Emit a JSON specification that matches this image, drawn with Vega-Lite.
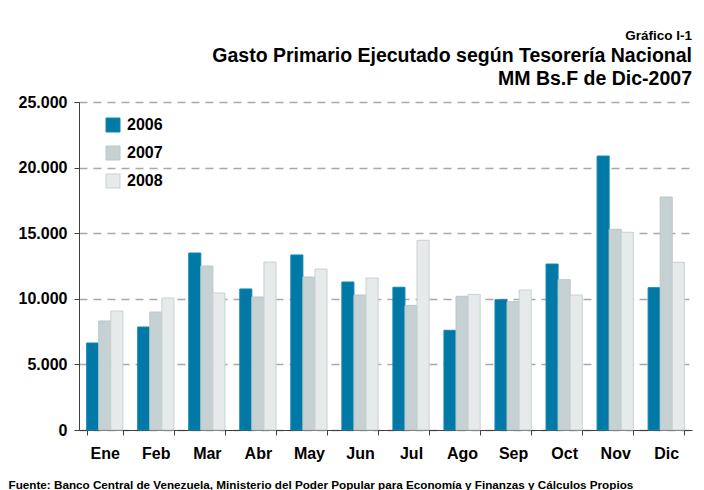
{
  "$schema": "https://vega.github.io/schema/vega-lite/v6.json",
  "width": 613,
  "height": 328,
  "autosize": {"type": "none"},
  "padding": {"left": 79, "top": 102, "right": 12, "bottom": 60},
  "background": "white",
  "config": {
    "font": "Liberation Sans",
    "locale": {"number": {"decimal": ",", "thousands": ".", "grouping": [3], "currency": ["", ""]}},
    "view": {"stroke": null}
  },
  "title": {
    "text": "Gráfico I-1",
    "subtitle": ["Gasto Primario Ejecutado según Tesorería Nacional", "MM Bs.F de Dic-2007"],
    "anchor": "end",
    "frame": "group",
    "font": "Liberation Sans",
    "fontSize": 13.5,
    "fontWeight": "bold",
    "color": "black",
    "subtitleFont": "Liberation Sans",
    "subtitleFontSize": 19.5,
    "subtitleFontWeight": "bold",
    "subtitleColor": "black",
    "subtitleLineHeight": 23,
    "subtitlePadding": 4,
    "offset": 6
  },
  "data": {
    "values": [
      {"mes": "Ene", "anio": "2006", "valor": 6630},
      {"mes": "Ene", "anio": "2007", "valor": 8310},
      {"mes": "Ene", "anio": "2008", "valor": 9070},
      {"mes": "Feb", "anio": "2006", "valor": 7850},
      {"mes": "Feb", "anio": "2007", "valor": 8990},
      {"mes": "Feb", "anio": "2008", "valor": 10060},
      {"mes": "Mar", "anio": "2006", "valor": 13490},
      {"mes": "Mar", "anio": "2007", "valor": 12500},
      {"mes": "Mar", "anio": "2008", "valor": 10440},
      {"mes": "Abr", "anio": "2006", "valor": 10750},
      {"mes": "Abr", "anio": "2007", "valor": 10140},
      {"mes": "Abr", "anio": "2008", "valor": 12800},
      {"mes": "May", "anio": "2006", "valor": 13340},
      {"mes": "May", "anio": "2007", "valor": 11660},
      {"mes": "May", "anio": "2008", "valor": 12270},
      {"mes": "Jun", "anio": "2006", "valor": 11280},
      {"mes": "Jun", "anio": "2007", "valor": 10290},
      {"mes": "Jun", "anio": "2008", "valor": 11590},
      {"mes": "Jul", "anio": "2006", "valor": 10880},
      {"mes": "Jul", "anio": "2007", "valor": 9500},
      {"mes": "Jul", "anio": "2008", "valor": 14460},
      {"mes": "Ago", "anio": "2006", "valor": 7600},
      {"mes": "Ago", "anio": "2007", "valor": 10190},
      {"mes": "Ago", "anio": "2008", "valor": 10340},
      {"mes": "Sep", "anio": "2006", "valor": 9930},
      {"mes": "Sep", "anio": "2007", "valor": 9780},
      {"mes": "Sep", "anio": "2008", "valor": 10670},
      {"mes": "Oct", "anio": "2006", "valor": 12650},
      {"mes": "Oct", "anio": "2007", "valor": 11460},
      {"mes": "Oct", "anio": "2008", "valor": 10290},
      {"mes": "Nov", "anio": "2006", "valor": 20880},
      {"mes": "Nov", "anio": "2007", "valor": 15300},
      {"mes": "Nov", "anio": "2008", "valor": 15070},
      {"mes": "Dic", "anio": "2006", "valor": 10850},
      {"mes": "Dic", "anio": "2007", "valor": 17760},
      {"mes": "Dic", "anio": "2008", "valor": 12780}
    ]
  },
  "mark": {"type": "bar", "strokeWidth": 1},
  "encoding": {
    "x": {
      "field": "mes",
      "type": "nominal",
      "sort": ["Ene", "Feb", "Mar", "Abr", "May", "Jun", "Jul", "Ago", "Sep", "Oct", "Nov", "Dic"],
      "scale": {"paddingInner": 0.29, "paddingOuter": 0.15},
      "axis": {
        "title": "Fuente: Banco Central de Venezuela, Ministerio del Poder Popular para Economía y Finanzas y Cálculos Propios",
        "titleFont": "Liberation Sans",
        "titleFontSize": 11.7,
        "titleFontWeight": "bold",
        "titleColor": "black",
        "titleAnchor": "start",
        "titleAlign": "left",
        "titleBaseline": "alphabetic",
        "titleX": -71,
        "titleY": 58,
        "labelAngle": 0,
        "labelFont": "Liberation Sans",
        "labelFontSize": 16,
        "labelFontWeight": "bold",
        "labelColor": "black",
        "labelPadding": 10,
        "tickBand": "extent",
        "tickSize": 5,
        "tickColor": "#404040",
        "domainColor": "#404040",
        "grid": false
      }
    },
    "xOffset": {"field": "anio", "type": "nominal", "scale": {"paddingInner": 0, "paddingOuter": 0}},
    "y": {
      "field": "valor",
      "type": "quantitative",
      "scale": {"domain": [0, 25000], "nice": false},
      "axis": {
        "title": null,
        "values": [0, 5000, 10000, 15000, 20000, 25000],
        "format": ",d",
        "labelFont": "Liberation Sans",
        "labelFontSize": 16,
        "labelFontWeight": "bold",
        "labelColor": "black",
        "labelPadding": 7,
        "tickSize": 5,
        "tickColor": "#404040",
        "domainColor": "#404040",
        "grid": true,
        "gridColor": "#A8A8A8",
        "gridDash": [8, 6],
        "gridWidth": 1.3
      }
    },
    "color": {
      "field": "anio",
      "type": "nominal",
      "scale": {"domain": ["2006", "2007", "2008"], "range": ["#0079A6", "#C5D1D2", "#E6EAEA"]},
      "legend": {
        "title": null,
        "orient": "none",
        "legendX": 26,
        "legendY": 15,
        "symbolType": "square",
        "symbolSize": 196,
        "symbolStrokeWidth": 1,
        "labelFont": "Liberation Sans",
        "labelFontSize": 16,
        "labelFontWeight": "bold",
        "labelColor": "black",
        "labelOffset": 6,
        "rowPadding": 10
      }
    },
    "stroke": {
      "field": "anio",
      "type": "nominal",
      "scale": {"domain": ["2006", "2007", "2008"], "range": ["#1587B0", "#BCC7C8", "#C9D1D1"]},
      "legend": null
    }
  }
}
